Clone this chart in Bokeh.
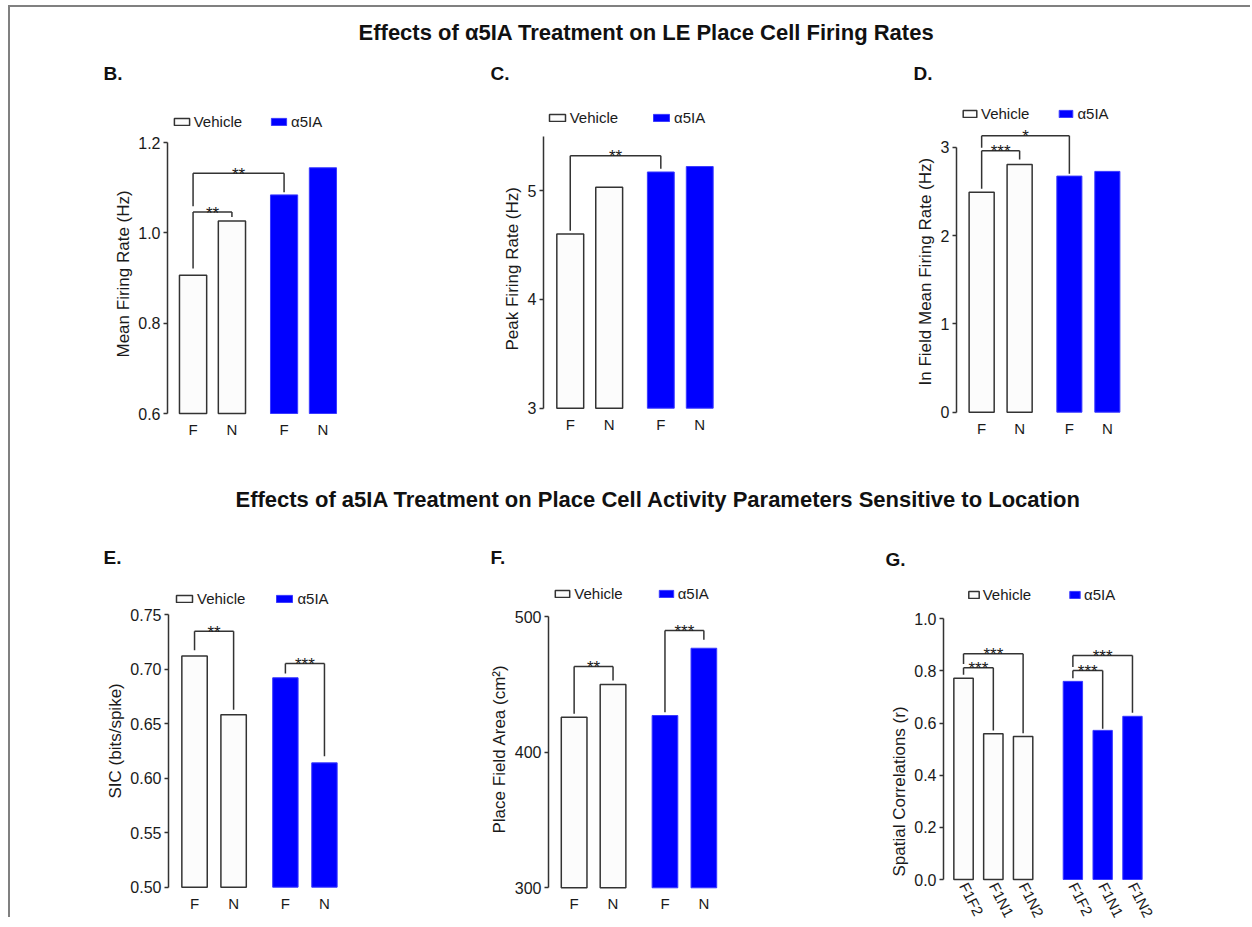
from bokeh.plotting import figure
from bokeh.models import (FactorRange, Range1d, FixedTicker, Legend, LegendItem,
                          ColumnDataSource, Div, Title)
from bokeh.layouts import row, column
from bokeh.embed import file_html
from bokeh.resources import INLINE
from bokeh.core.properties import value

FONT = "Liberation Sans"
INK = "#333333"
TXT = "#1a1a1a"
BLUE = "#0000ff"

# ---------------- data ----------------
groups = ["Vehicle", "α5IA"]
conds_fn = ["F", "N"]
conds_corr = ["F1F2", "F1N1", "F1N2"]

mean_rate_vehicle = [0.906, 1.026]
mean_rate_a5ia = [1.084, 1.144]
peak_rate_vehicle = [4.60, 5.03]
peak_rate_a5ia = [5.17, 5.22]
infield_rate_vehicle = [2.49, 2.805]
infield_rate_a5ia = [2.673, 2.726]
sic_vehicle = [0.712, 0.658]
sic_a5ia = [0.692, 0.614]
field_area_vehicle = [425.8, 449.9]
field_area_a5ia = [427.0, 476.6]
corr_vehicle = [0.772, 0.559, 0.549]
corr_a5ia = [0.760, 0.572, 0.626]

ticks_B = [0.6, 0.8, 1.0, 1.2]
labels_B = ["0.6", "0.8", "1.0", "1.2"]
ticks_C = [3, 4, 5]
labels_C = ["3", "4", "5"]
ticks_D = [0, 1, 2, 3]
labels_D = ["0", "1", "2", "3"]
ticks_E = [0.50, 0.55, 0.60, 0.65, 0.70, 0.75]
labels_E = ["0.50", "0.55", "0.60", "0.65", "0.70", "0.75"]
ticks_F = [300, 400, 500]
labels_F = ["300", "400", "500"]
ticks_G = [0.0, 0.2, 0.4, 0.6, 0.8, 1.0]
labels_G = ["0.0", "0.2", "0.4", "0.6", "0.8", "1.0"]

# significance brackets: (left bar, right bar, bracket top, left leg end, right leg end, label)
V, A = "Vehicle", "α5IA"
brackets_B = [((V, "F"), (V, "N"), 1.046, 0.921, 1.035, "**"),
              ((V, "F"), (A, "F"), 1.132, 1.059, 1.090, "**")]
brackets_C = [((V, "F"), (A, "F"), 5.32, 4.63, 5.20, "**")]
brackets_D = [((V, "F"), (V, "N"), 2.96, 2.53, 2.86, "***"),
              ((V, "F"), (A, "F"), 3.13, 2.995, 2.70, "*")]
brackets_E = [((V, "F"), (V, "N"), 0.7346, 0.7172, 0.6627, "**"),
              ((A, "F"), (A, "N"), 0.705, 0.6958, 0.620, "***")]
brackets_F = [((V, "F"), (V, "N"), 463.2, 428.3, 452.8, "**"),
              ((A, "F"), (A, "N"), 489.7, 429.5, 482.8, "***")]
brackets_G = [((V, "F1F2"), (V, "F1N1"), 0.812, 0.785, 0.572, "***"),
              ((V, "F1F2"), (V, "F1N2"), 0.866, 0.827, 0.561, "***"),
              ((A, "F1F2"), (A, "F1N1"), 0.802, 0.772, 0.578, "***"),
              ((A, "F1F2"), (A, "F1N2"), 0.859, 0.815, 0.640, "***")]


def make_panel(conds, vals_v, vals_a, ylabel, yticks, ylabels, ybound_top, brackets, geo, rotate=None):
    n = len(conds)
    factors = [(grp, c) for grp in groups for c in conds]
    u, gp = geo["u"], geo["g"]
    pad = (geo["c0"] - geo["ax"]) / u - 0.5
    span = 2 * n + gp + 2 * pad
    fw = int(round(span * u))
    mbl = int(round(geo["ax"] - geo["x0"]))
    mbr = geo["w"] - mbl - fw
    ft, fb, rt, rb = geo["ft"], geo["fb"], geo["rt"], geo["rb"]
    (vh, ph), (vl, pl) = geo["yt"]
    s = (pl - ph) / (vh - vl)
    y0 = vl - (fb - pl) / s
    y1 = vl + (pl - ft) / s

    xr = FactorRange(factors=factors, group_padding=gp, factor_padding=0.0,
                     range_padding=pad, range_padding_units="absolute")
    p = figure(x_range=xr, y_range=Range1d(y0, y1), width=geo["w"], height=rb - rt,
               frame_width=fw, frame_height=fb - ft,
               min_border_left=mbl, min_border_right=mbr,
               min_border_top=ft - rt, min_border_bottom=rb - fb,
               toolbar_location=None, output_backend="svg", outline_line_color=None,
               background_fill_color="white", border_fill_color="white")
    p.xgrid.visible = False
    p.ygrid.visible = False

    src_v = ColumnDataSource(dict(x=[(V, c) for c in conds], top=vals_v))
    src_a = ColumnDataSource(dict(x=[(A, c) for c in conds], top=vals_a))
    rv = p.vbar(x="x", top="top", bottom=yticks[0], width=geo["bw"], source=src_v,
                fill_color="#fcfcfc", line_color=INK, line_width=1.5)
    ra = p.vbar(x="x", top="top", bottom=yticks[0], width=geo["bw"], source=src_a,
                fill_color=BLUE, line_color="#3a3aff", line_width=1)

    def pos(f):
        return groups.index(f[0]) * (n + gp) + conds.index(f[1]) + 0.5

    x0s, y0s, x1s, y1s, tx, ty, tt = [], [], [], [], [], [], []
    for a, b, top, ya, yb, lab in brackets:
        x0s += [a, a, b]
        y0s += [ya, top, top]
        x1s += [a, b, b]
        y1s += [top, top, yb]
        tx.append((a[0], a[1], (pos(b) - pos(a)) / 2))
        ty.append(top)
        tt.append(lab)
    p.segment(x0=x0s, y0=y0s, x1=x1s, y1=y1s, line_color=INK, line_width=1.5)
    p.text(x=tx, y=ty, text=tt, text_align="center", text_baseline="alphabetic",
           y_offset=1, text_font=value(FONT), text_font_size="17px", text_color=TXT)

    ya_ = p.yaxis[0]
    ya_.ticker = FixedTicker(ticks=yticks)
    ya_.major_label_overrides = {t: l for t, l in zip(yticks, ylabels)}
    ya_.bounds = (yticks[0], ybound_top)
    ya_.minor_tick_line_color = None
    ya_.major_tick_out = 4
    ya_.major_tick_in = 0
    ya_.axis_line_color = INK
    ya_.axis_line_width = 1.5
    ya_.major_tick_line_color = INK
    ya_.major_tick_line_width = 1.5
    ya_.major_label_standoff = 3
    ya_.major_label_text_font = FONT
    ya_.major_label_text_font_size = "16px"
    ya_.major_label_text_color = TXT

    # y label as a left-side title, anchored at its lower end
    p.add_layout(Title(text=ylabel, align="left", offset=fb - geo["lab"],
                       text_font=FONT, text_font_size="17px", text_font_style="normal",
                       text_color=TXT, standoff=6), "left")

    xa = p.xaxis[0]
    xa.axis_line_color = None
    xa.major_tick_line_color = None
    xa.major_tick_out = 0
    xa.major_tick_in = 0
    xa.separator_line_color = None
    xa.group_text_color = None
    xa.group_text_font_size = "1px"
    xa.major_label_text_font = FONT
    xa.major_label_text_color = TXT
    xa.major_label_text_font_size = "15px"
    if rotate is None:
        xa.major_label_standoff = 5
    else:
        xa.major_label_orientation = rotate
        xa.major_label_standoff = 2

    lx, lcy = geo["leg"]
    leg = Legend(items=[LegendItem(label="Vehicle", renderers=[rv]),
                        LegendItem(label="α5IA", renderers=[ra])],
                 orientation="horizontal",
                 location=(lx - (geo["x0"] + mbl), fb - (lcy + 10)),
                 padding=0, margin=0, spacing=geo["sp"],
                 glyph_width=geo["gw"], glyph_height=9, label_height=20,
                 label_standoff=3, label_text_font=FONT, label_text_font_size="15px",
                 label_text_color=TXT, border_line_color=None, background_fill_alpha=0)
    p.add_layout(leg)
    return p


X0, Y0 = 10, 7          # page position where the content column starts
W = 1234


def header(top, bottom, items):
    h = bottom - top
    p = figure(width=W, height=h, x_range=Range1d(X0, X0 + W), y_range=Range1d(bottom, top),
               x_axis_location=None, y_axis_location=None, min_border=0,
               toolbar_location=None, output_backend="svg", outline_line_color=None)
    p.grid.visible = False
    for x, y, t, size, align in items:
        p.text(x=[x], y=[y], text=[t], text_align=align, text_baseline="middle",
               text_font=value(FONT), text_font_style="bold", text_font_size=size,
               text_color="#111111")
    return p


R1T, R1B = 90, 450
R2T, R2B = 570, 917
FT1, FT2 = 102, 582

geoB = dict(x0=10, w=440, ax=167, c0=192.5, u=38.75, g=0.342, bw=0.70,
            yt=((1.2, 142), (0.6, 413)), ft=FT1, fb=415, rt=R1T, rb=R1B,
            leg=(171.7, 121.3), gw=19, sp=27, lab=357)
geoC = dict(x0=450, w=390, ax=543.3, c0=570, u=38.85, g=0.326, bw=0.69,
            yt=((5, 190), (3, 407.7)), ft=FT1, fb=410, rt=R1T, rb=R1B,
            leg=(546.7, 117.5), gw=20, sp=33, lab=350)
geoD = dict(x0=840, w=404, ax=956, c0=981.2, u=38.05, g=0.31, bw=0.66,
            yt=((3, 146.7), (0, 411.7)), ft=FT1, fb=414, rt=R1T, rb=R1B,
            leg=(961, 113.7), gw=17, sp=28, lab=385)
geoE = dict(x0=10, w=440, ax=168.3, c0=194.3, u=39, g=0.326, bw=0.65,
            yt=((0.75, 614), (0.5, 886.7)), ft=FT2, fb=889, rt=R2T, rb=R2B,
            leg=(174, 598), gw=20, sp=29, lab=798)
geoF = dict(x0=450, w=390, ax=548.3, c0=573.9, u=38.85, g=0.335, bw=0.66,
            yt=((500, 616), (300, 887.3)), ft=FT2, fb=889, rt=R2T, rb=R2B,
            leg=(553.3, 593.7), gw=18, sp=34, lab=833)
geoG = dict(x0=840, w=404, ax=943.3, c0=963.3, u=29.75, g=0.67, bw=0.65,
            yt=((1.0, 618.3), (0.0, 879)), ft=FT2, fb=881, rt=R2T, rb=R2B,
            leg=(966.7, 594.5), gw=13, sp=37, lab=876)

pB = make_panel(conds_fn, mean_rate_vehicle, mean_rate_a5ia, "Mean Firing Rate (Hz)",
                ticks_B, labels_B, 1.2, brackets_B, geoB)
pC = make_panel(conds_fn, peak_rate_vehicle, peak_rate_a5ia, "Peak Firing Rate (Hz)",
                ticks_C, labels_C, 5.5, brackets_C, geoC)
pD = make_panel(conds_fn, infield_rate_vehicle, infield_rate_a5ia, "In Field Mean Firing Rate (Hz)",
                ticks_D, labels_D, 3, brackets_D, geoD)
pE = make_panel(conds_fn, sic_vehicle, sic_a5ia, "SIC (bits/spike)",
                ticks_E, labels_E, 0.75, brackets_E, geoE)
pF = make_panel(conds_fn, field_area_vehicle, field_area_a5ia, "Place Field Area (cm²)",
                ticks_F, labels_F, 500, brackets_F, geoF)
pG = make_panel(conds_corr, corr_vehicle, corr_a5ia, "Spatial Correlations (r)",
                ticks_G, labels_G, 1.0, brackets_G, geoG, rotate=-1.1)

h1 = header(Y0, R1T, [
    (646, 32, "Effects of α5IA Treatment on LE Place Cell Firing Rates", "22px", "center"),
    (103, 73, "B.", "19px", "left"),
    (490, 73, "C.", "19px", "left"),
    (913, 73, "D.", "19px", "left"),
])
h2 = header(R1B, R2T, [
    (658, 499, "Effects of a5IA Treatment on Place Cell Activity Parameters Sensitive to Location", "22px", "center"),
    (103, 557, "E.", "19px", "left"),
    (490, 557, "F.", "19px", "left"),
    (885, 559, "G.", "19px", "left"),
])

top_border = Div(text="", width=1240, height=2, margin=(5, 0, 0, 0),
                 styles={"background-color": "#808080"})
left_border = Div(text="", width=2, height=R2B - 5, margin=(5, 0, 0, 8),
                  styles={"background-color": "#808080"})

layout = row(left_border,
             column(top_border, h1, row(pB, pC, pD), h2, row(pE, pF, pG)))

open("out.html", "w").write(file_html(layout, INLINE))
